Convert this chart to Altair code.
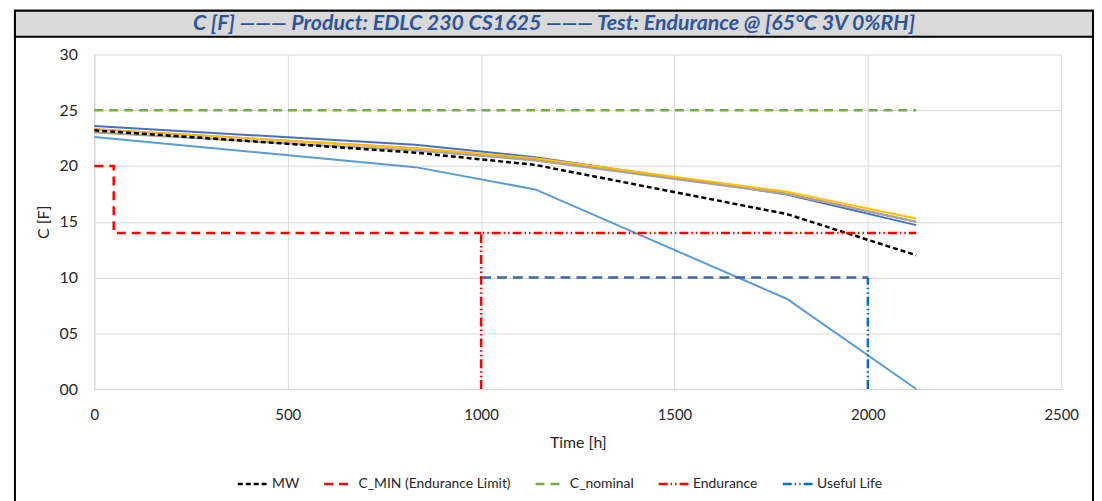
import altair as alt
import pandas as pd

# ---- data ----
time_h = [0, 830, 1140, 1790, 2125]
sample_names = ["S1", "S2", "S3", "S4", "S5"]
sample_colors = ["#4472C4", "#ED7D31", "#A5A5A5", "#FFC000", "#5B9BD5"]
s1 = [23.6, 21.9, 20.8, 17.45, 14.7]
s2 = [23.3, 21.6, 20.6, 17.55, 15.0]
s3 = [23.0, 21.4, 20.5, 17.5, 15.0]
s4 = [23.3, 21.6, 20.7, 17.7, 15.3]
s5 = [22.6, 19.9, 17.9, 8.1, 0.0]
mw = [23.2, 21.2, 20.1, 15.7, 12.0]

cmin_t = [0, 50, 50, 1000]
cmin_c = [20, 20, 14, 14]
cnom_t = [0, 2125]
cnom_c = [25, 25]
end_t = [1000, 1000, 2125]
end_c = [0, 14, 14]
ul_t = [2000, 2000]
ul_c = [0, 10]
ulh_t = [1000, 2000]
ulh_c = [10, 10]

legend_series = ["MW", "C_MIN (Endurance Limit)", "C_nominal", "Endurance", "Useful Life"]
legend_colors = ["#000000", "#FF0000", "#70AD47", "#FF0000", "#0070C0"]
legend_dash = [[5, 3], [9, 6], [9, 6], [9, 3, 1.5, 3, 1.5, 3], [9, 3, 1.5, 3, 1.5, 3]]
legend_width = [2.5, 2.5, 2, 1.5, 1.5]

x_ticks = [0, 500, 1000, 1500, 2000, 2500]
y_ticks = [0, 5, 10, 15, 20, 25, 30]
title_text = "C [F] ——— Product: EDLC 230 CS1625 ——— Test: Endurance @ [65°C 3V 0%RH]"

# ---- tables ----
samples_data = [s1, s2, s3, s4, s5]

ref_rows = []
for name, ts, cs in [("MW", time_h, mw), ("C_MIN (Endurance Limit)", cmin_t, cmin_c),
                     ("C_nominal", cnom_t, cnom_c), ("Endurance", end_t, end_c),
                     ("Useful Life", ul_t, ul_c)]:
    for i, (t, v) in enumerate(zip(ts, cs)):
        ref_rows.append({"t": t, "c": v, "series": name, "i": i})
df_r = pd.DataFrame(ref_rows)

df_h = pd.DataFrame({"t": ulh_t, "c": ulh_c})

FONT = "Lato"
TXT = "#262626"

# ---- decoration: grey title band and chart frame (layout, not data) ----
one = pd.DataFrame({"title": [title_text]})
frame = alt.Chart(one).mark_rect(fill="transparent", stroke="#000000", strokeWidth=2).encode(
    x=alt.value(-80), x2=alt.value(1006), y=alt.value(-44), y2=alt.value(460)
)
band = alt.Chart(one).mark_rect(fill="#D9D9D9", stroke="#000000", strokeWidth=2).encode(
    x=alt.value(-80), x2=alt.value(1006), y=alt.value(-44), y2=alt.value(-18)
)
band_text = alt.Chart(one).mark_text(
    font=FONT, fontSize=21.5, fontWeight="bold", fontStyle="italic", color="#2F5597",
    baseline="middle", align="center"
).encode(text="title:N", x=alt.value(463), y=alt.value(-31))

x_enc = alt.X("t:Q", scale=alt.Scale(domain=[0, 2500], nice=False),
              axis=alt.Axis(values=x_ticks, title="Time [h]", format="d", grid=True,
                            gridColor="#D9D9D9", domainColor="#D9D9D9", ticks=False,
                            labelFlush=False,
                            labelFont=FONT, labelFontSize=15, labelColor=TXT, labelPadding=19,
                            titleFont=FONT, titleFontSize=16, titleFontWeight="normal",
                            titleColor=TXT, titlePadding=12))
y_enc = alt.Y("c:Q", scale=alt.Scale(domain=[0, 30], nice=False),
              axis=alt.Axis(values=y_ticks, title="C [F]", format="02d", grid=True,
                            gridColor="#D9D9D9", domainColor="#D9D9D9", ticks=False,
                            labelFlush=False,
                            labelFont=FONT, labelFontSize=16, labelColor=TXT, labelPadding=17,
                            titleFont=FONT, titleFontSize=16, titleFontWeight="normal",
                            titleColor=TXT, titlePadding=8))

layers = []
for k, (name, col, vals) in enumerate(zip(sample_names, sample_colors, samples_data)):
    d = pd.DataFrame({"t": time_h, "c": vals})
    if k == 0:
        layers.append(alt.Chart(d).mark_line(strokeWidth=2, color=col).encode(x=x_enc, y=y_enc))
    else:
        layers.append(alt.Chart(d).mark_line(strokeWidth=2, color=col).encode(x="t:Q", y="c:Q"))

useful_h = alt.Chart(df_h).mark_line(strokeWidth=2.5, color="#3D64A8", strokeDash=[10, 6]).encode(
    x="t:Q", y="c:Q"
)
layers.append(useful_h)

leg = alt.Legend(title=None, orient="none", legendX=143, legendY=416, direction="horizontal",
                 symbolType="stroke", symbolSize=900, symbolStrokeWidth=2.5,
                 labelFont=FONT, labelFontSize=14, labelColor=TXT, columnPadding=19,
                 labelOffset=3)

refs = alt.Chart(df_r).mark_line().encode(
    x="t:Q", y="c:Q",
    color=alt.Color("series:N", scale=alt.Scale(domain=legend_series, range=legend_colors), legend=leg),
    strokeDash=alt.StrokeDash("series:N", scale=alt.Scale(domain=legend_series, range=legend_dash), legend=leg),
    strokeWidth=alt.StrokeWidth("series:N", scale=alt.Scale(domain=legend_series, range=legend_width), legend=None),
    order=alt.Order("i:Q"),
)
layers.append(refs)

chart = alt.layer(*layers, frame, band, band_text).properties(
    width=974, height=337,
    padding={"left": 6, "top": 0, "right": 0, "bottom": 0},
).configure_view(stroke="transparent")

chart.save("out.html", embed_options={"renderer": "svg", "actions": False})
